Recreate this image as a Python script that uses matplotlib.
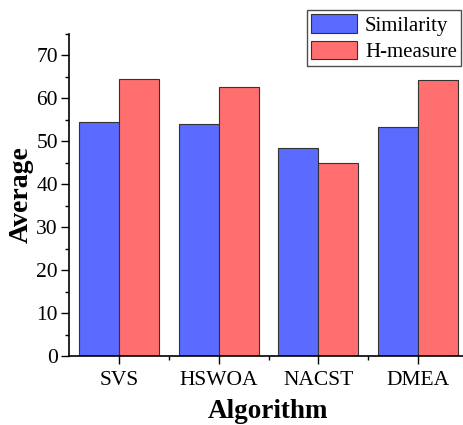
import matplotlib
matplotlib.use("Agg")
import matplotlib.pyplot as plt
import numpy as np
from matplotlib.ticker import MultipleLocator, FixedLocator

categories = ["SVS", "HSWOA", "NACST", "DMEA"]
similarity = [54.6, 54.1, 48.4, 53.4]
h_measure = [64.6, 62.6, 44.9, 64.4]
series_names = ["Similarity", "H-measure"]
y_ticks = [0, 10, 20, 30, 40, 50, 60, 70]

plt.rcParams['font.family'] = ['Liberation Serif', 'DejaVu Serif']

fig = plt.figure(figsize=(4.63, 4.25), dpi=100)
ax = fig.add_axes([69/463, (425-356)/425, (468-69)/463, (356-34)/425])

x = np.arange(len(categories))
w = 0.4
ax.bar(x - w/2, similarity, w, color='#5B6BFF', edgecolor='#333333', linewidth=0.8, label=series_names[0])
ax.bar(x + w/2, h_measure, w, color='#FF6F6F', edgecolor='#333333', linewidth=0.8, label=series_names[1])

ax.set_xlim(-0.5, 3.5)
ax.set_ylim(0, 75)
ax.set_xticks(x)
ax.set_xticklabels(categories, fontsize=15.5)
ax.xaxis.set_minor_locator(FixedLocator([0.5, 1.5, 2.5]))
ax.set_yticks(y_ticks)
ax.set_yticklabels([str(v) for v in y_ticks], fontsize=15.5)
ax.yaxis.set_minor_locator(MultipleLocator(5))
ax.tick_params(axis='both', which='major', direction='out', length=6, width=1, pad=2)
ax.tick_params(axis='x', which='major', pad=5)
ax.tick_params(axis='both', which='minor', direction='out', length=3, width=1)
ax.spines['top'].set_visible(False)
ax.spines['right'].set_visible(False)
ax.spines['left'].set_linewidth(1.2)
ax.spines['bottom'].set_linewidth(1.2)

ax.set_xlabel("Algorithm", fontsize=19.5, fontweight='bold', labelpad=6)
ax.set_ylabel("Average", fontsize=20, fontweight='bold', labelpad=2)

leg = fig.legend(loc='upper right', bbox_to_anchor=(461/463, 1 - 10/425), fontsize=15,
                 frameon=True, fancybox=False, edgecolor='#222222', borderpad=0.2,
                 handlelength=2.2, handleheight=1.0, handletextpad=0.4, labelspacing=0.25,
                 borderaxespad=0)
leg.get_frame().set_linewidth(1.0)

fig.savefig("out.png", dpi=100)
